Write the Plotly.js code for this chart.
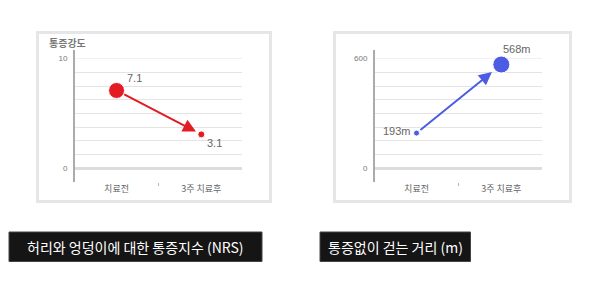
<!DOCTYPE html>
<html>
<head>
<meta charset="utf-8">
<script src="https://cdn.plot.ly/plotly-3.0.1.min.js"></script>
<style>html,body{margin:0;padding:0;background:#fff;}#chart{width:600px;height:294px;}</style>
</head>
<body>
<div id="chart"></div>
<script>
// ---- data ----
const categories = ['치료전', '3주 치료후'];
const painValues = [7.1, 3.1];
const painLabels = ['7.1', '3.1'];
const walkValues = [193, 568];
const walkLabels = ['193m', '568m'];
const painTickVals = [0, 10];
const walkTickVals = [0, 600];
const painTitle = '통증강도';
const leftCaption = '허리와 엉덩이에 대한 통증지수 (NRS)';
const rightCaption = '통증없이 걷는 거리 (m)';

const RED = '#e31b23';
const BLUE = '#4c5de3';
const W = 600, H = 294;
const px = v => v / W;
const py = v => 1 - v / H;

const kfont = '"Noto Sans CJK KR", "Noto Sans", sans-serif';
const afont = '"Liberation Sans", Arial, sans-serif';

const traces = [
  {x: categories, y: painValues, xaxis: 'x', yaxis: 'y', type: 'scatter', mode: 'markers',
   marker: {color: RED, size: [16, 7], opacity: 1}, hoverinfo: 'skip', cliponaxis: false},
  {x: categories, y: walkValues, xaxis: 'x2', yaxis: 'y2', type: 'scatter', mode: 'markers',
   marker: {color: BLUE, size: [6, 17], opacity: 1}, hoverinfo: 'skip', cliponaxis: false}
];

function xAxis(domain) {
  return {
    domain: domain, type: 'category', range: [-0.49, 1.48],
    showgrid: false, zeroline: false, showline: false,
    ticks: 'outside', tickson: 'boundaries', ticklen: 3, tickcolor: '#b5b5b5', tickwidth: 1,
    tickfont: {family: kfont, size: 9, color: '#666'}, fixedrange: true
  };
}
function yAxis(domain, range, tickvals, minorStep) {
  return {
    domain: domain, range: range, tickmode: 'array', tickvals: tickvals,
    showgrid: true, gridcolor: '#f1f1f1', gridwidth: 1,
    minor: {tickmode: 'linear', tick0: 0, dtick: minorStep, showgrid: true, gridcolor: '#e4e4e4', gridwidth: 1, ticks: ''},
    zeroline: true, zerolinecolor: '#dcdcdc', zerolinewidth: 3,
    showline: true, linecolor: '#ababab', linewidth: 2,
    ticks: '', ticklabelstandoff: 4,
    tickfont: {family: afont, size: 8, color: '#777'}, fixedrange: true
  };
}

const yDom = [py(182), py(50)];
const painRange = [-1.24, 10.79];
const walkRange = [-74.5, 647.5];

const annotations = [
  // y title
  {xref: 'paper', yref: 'paper', x: px(47), y: py(42.5), xanchor: 'left', yanchor: 'middle',
   text: '<b>' + painTitle + '</b>', showarrow: false, font: {family: kfont, size: 10, color: '#777'}},
  // arrows
  {xref: 'x', yref: 'y', axref: 'x', ayref: 'y', x: 1, y: painValues[1], ax: 0, ay: painValues[0],
   text: '', showarrow: true, arrowhead: 2, arrowsize: 1.3, arrowwidth: 2, arrowcolor: RED,
   standoff: 6, startstandoff: 7},
  {xref: 'x2', yref: 'y2', axref: 'x2', ayref: 'y2', x: 1, y: walkValues[1], ax: 0, ay: walkValues[0],
   text: '', showarrow: true, arrowhead: 2, arrowsize: 1.3, arrowwidth: 2, arrowcolor: BLUE,
   standoff: 12, startstandoff: 3},
  // value labels
  {xref: 'x', yref: 'y', x: 0, y: painValues[0], text: painLabels[0], showarrow: false,
   xshift: 18, yshift: 12.5, font: {family: afont, size: 11, color: '#666'}},
  {xref: 'x', yref: 'y', x: 1, y: painValues[1], text: painLabels[1], showarrow: false,
   xshift: 13, yshift: -8.5, font: {family: afont, size: 11, color: '#666'}},
  {xref: 'x2', yref: 'y2', x: 0, y: walkValues[0], text: walkLabels[0], showarrow: false,
   xshift: -20, yshift: 2, font: {family: afont, size: 11, color: '#666'}},
  {xref: 'x2', yref: 'y2', x: 1, y: walkValues[1], text: walkLabels[1], showarrow: false,
   xshift: 16, yshift: 15.5, font: {family: afont, size: 11, color: '#666'}},
  // captions
  {xref: 'paper', yref: 'paper', x: px(135.5), y: py(246.5), xanchor: 'center', yanchor: 'middle',
   text: leftCaption, showarrow: false, font: {family: kfont, size: 14, color: '#ffffff'}},
  {xref: 'paper', yref: 'paper', x: px(395), y: py(246.5), xanchor: 'center', yanchor: 'middle',
   text: rightCaption, showarrow: false, font: {family: kfont, size: 14, color: '#ffffff'}}
];

const shapes = [
  {type: 'rect', xref: 'paper', yref: 'paper', x0: px(37.5), x1: px(270.5), y0: py(32.5), y1: py(201.5),
   line: {color: '#e6e6e6', width: 3}, fillcolor: 'rgba(0,0,0,0)', layer: 'below'},
  {type: 'rect', xref: 'paper', yref: 'paper', x0: px(334.5), x1: px(570.5), y0: py(32.5), y1: py(201.5),
   line: {color: '#e6e6e6', width: 3}, fillcolor: 'rgba(0,0,0,0)', layer: 'below'},
  {type: 'rect', xref: 'paper', yref: 'paper', x0: px(9), x1: px(262), y0: py(232), y1: py(261.5),
   line: {color: '#444', width: 1}, fillcolor: '#151515', layer: 'below'},
  {type: 'rect', xref: 'paper', yref: 'paper', x0: px(320), x1: px(470.5), y0: py(232), y1: py(261.5),
   line: {color: '#444', width: 1}, fillcolor: '#151515', layer: 'below'}
];

const layout = {
  width: W, height: H, margin: {l: 0, r: 0, t: 0, b: 0},
  paper_bgcolor: '#ffffff', plot_bgcolor: 'rgba(0,0,0,0)', showlegend: false,
  xaxis: xAxis([px(75), px(242)]),
  yaxis: yAxis(yDom, painRange, painTickVals, 1.25),
  xaxis2: xAxis([px(375), px(542)]),
  yaxis2: yAxis(yDom, walkRange, walkTickVals, 75),
  annotations: annotations, shapes: shapes
};
layout.yaxis.anchor = 'x';
layout.xaxis.anchor = 'y';
layout.yaxis2.anchor = 'x2';
layout.xaxis2.anchor = 'y2';

Plotly.newPlot('chart', traces, layout, {staticPlot: true, displayModeBar: false});
</script>
</body>
</html>
